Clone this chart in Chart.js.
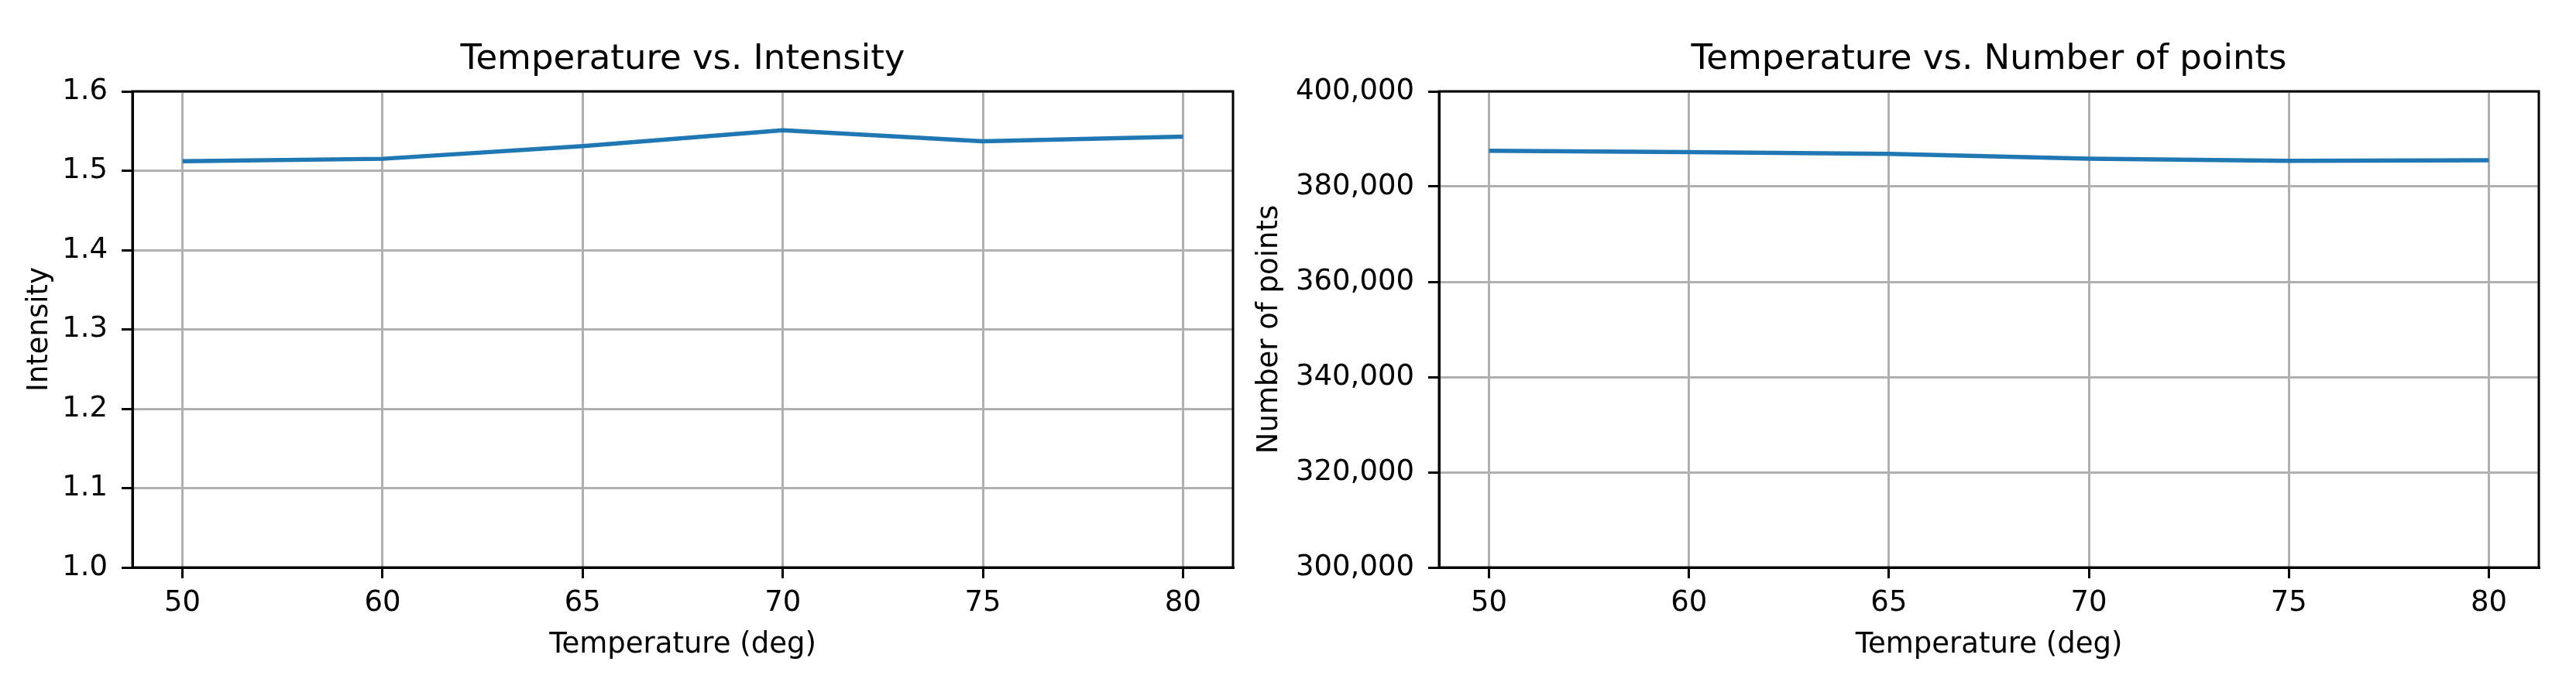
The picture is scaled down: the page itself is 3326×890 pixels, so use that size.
<!DOCTYPE html>
<html>
<head>
<meta charset="utf-8">
<script src="https://cdn.jsdelivr.net/npm/chart.js@4.4.1/dist/chart.umd.min.js"></script>
<style>
  body { margin: 0; background: #fff; }
  #wrap { position: relative; width: 3326px; height: 890px; }
  canvas { position: absolute; top: 0; }
</style>
</head>
<body>
<div id="wrap">
  <canvas id="intensityChart" width="1600" height="890" style="left:0"></canvas>
  <canvas id="pointsChart" width="1726" height="890" style="left:1600px"></canvas>
</div>
<script>
const temperatures = ["50", "60", "65", "70", "75", "80"];
const intensity = [1.512, 1.515, 1.531, 1.551, 1.537, 1.543];
const numPoints = [387520, 387250, 386870, 385840, 385410, 385510];
const intensityTicks = [1.0, 1.1, 1.2, 1.3, 1.4, 1.5, 1.6];
const pointsTicks = [300000, 320000, 340000, 360000, 380000, 400000];

const FONT = "'DejaVu Sans', sans-serif";
const BLUE = "#1f77b4";

// box around the plot area, like matplotlib spines
const frame = {
  id: "frame",
  afterDatasetsDraw(chart) {
    const a = chart.chartArea;
    const ctx = chart.ctx;
    ctx.save();
    ctx.strokeStyle = "#000";
    ctx.lineWidth = 3;
    ctx.strokeRect(a.left, a.top, a.right - a.left, a.bottom - a.top);
    ctx.restore();
  },
};

function withCommas(v) {
  return String(Math.round(v)).replace(/\B(?=(\d{3})+(?!\d))/g, ",");
}

function makeChart(id, opts) {
  const ctx = document.getElementById(id).getContext("2d");
  return new Chart(ctx, {
    type: "line",
    data: {
      datasets: [
        {
          data: opts.values.map((v, i) => ({ x: i, y: v })),
          borderColor: BLUE,
          borderWidth: 5.5,
          pointRadius: 0,
          fill: false,
          tension: 0,
        },
      ],
    },
    plugins: [frame],
    options: {
      responsive: false,
      animation: false,
      layout: { padding: { left: 0, right: opts.padRight, top: 0, bottom: 0 } },
      plugins: {
        legend: { display: false },
        tooltip: { enabled: false },
        title: {
          display: true,
          fullSize: false, // center over the plot area only
          text: opts.title,
          color: "#000",
          font: { family: FONT, size: 45, weight: "normal" },
          padding: { top: 50, bottom: 14 },
        },
      },
      scales: {
        x: {
          type: "linear",
          min: -0.25,
          max: temperatures.length - 0.75,
          afterBuildTicks: (s) => {
            s.ticks = temperatures.map((t, i) => ({ value: i }));
          },
          afterFit: (s) => {
            s.height = 157;
          },
          ticks: {
            color: "#000",
            font: { family: FONT, size: 37 },
            padding: 10,
            maxRotation: 0,
            autoSkip: false,
            callback: (v) => temperatures[v],
          },
          grid: {
            color: "#b0b0b0",
            lineWidth: 3,
            tickColor: "#000",
            tickWidth: 3,
            tickLength: 14,
          },
          border: { display: true, color: "#000", width: 3 },
          title: {
            display: true,
            text: "Temperature (deg)",
            color: "#000",
            font: { family: FONT, size: 37 },
            padding: { top: 0, bottom: 34 },
          },
        },
        y: {
          type: "linear",
          min: opts.ticks[0],
          max: opts.ticks[opts.ticks.length - 1],
          afterBuildTicks: (s) => {
            s.ticks = opts.ticks.map((v) => ({ value: v }));
          },
          afterFit: (s) => {
            s.width = opts.yWidth;
          },
          ticks: {
            color: "#000",
            font: { family: FONT, size: 37 },
            padding: 18,
            callback: opts.fmt,
          },
          grid: {
            color: "#b0b0b0",
            lineWidth: 3,
            tickColor: "#000",
            tickWidth: 3,
            tickLength: 14,
          },
          border: { display: true, color: "#000", width: 3 },
          title: {
            display: true,
            text: opts.yTitle,
            color: "#000",
            font: { family: FONT, size: 37 },
            padding: { top: opts.yTitlePad, bottom: 0 },
          },
        },
      },
    },
  });
}

makeChart("intensityChart", {
  title: "Temperature vs. Intensity",
  yTitle: "Intensity",
  values: intensity,
  ticks: intensityTicks,
  fmt: (v) => v.toFixed(1),
  yWidth: 171,
  yTitlePad: 29,
  padRight: 8,
});

makeChart("pointsChart", {
  title: "Temperature vs. Number of points",
  yTitle: "Number of points",
  values: numPoints,
  ticks: pointsTicks,
  fmt: withCommas,
  yWidth: 258,
  yTitlePad: 17,
  padRight: 48,
});
</script>
</body>
</html>
